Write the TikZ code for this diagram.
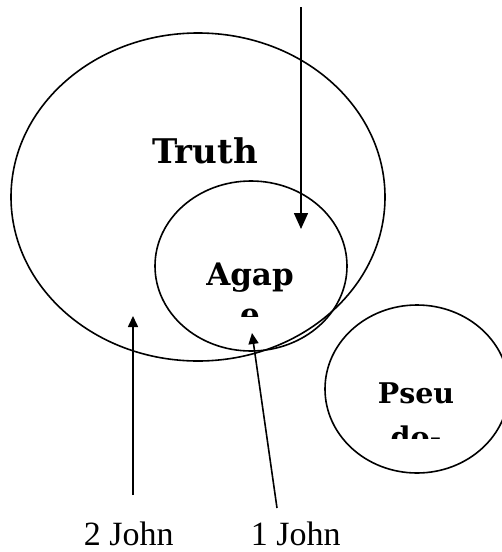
\documentclass[tikz,border=0pt]{standalone}
\usepackage{fontspec}
\setmainfont{Liberation Serif}
\newfontfamily\headfont{DejaVu Serif}
\usetikzlibrary{arrows.meta}
\begin{document}
\begin{tikzpicture}[x=1pt,y=-1pt,line join=round,line width=1.6pt,>={Triangle[length=11pt,width=10pt]}]
	\tikzset{every node/.style={inner sep=0pt},
		setname/.style={font=\headfont\bfseries,align=center,anchor=base},
		booklabel/.style={font=\fontsize{34}{40}\selectfont,anchor=base west}}
	\clip (0,0) rectangle (502,552);
	\draw (198,197) ellipse [x radius=187,y radius=164];
	\draw (251,266) ellipse [x radius=96,y radius=85];
	\draw (417,389) ellipse [x radius=92,y radius=84];
	\node[setname,font=\headfont\bfseries\fontsize{34}{40}\selectfont] (truth) at (205,163) {Truth};
	\begin{scope}
		\clip (150,240) rectangle (350,316);
		\node[setname,font=\headfont\bfseries\fontsize{31}{40}\selectfont] (agape) at (250,325) {Agap\\e};
	\end{scope}
	\begin{scope}
		\clip (330,360) rectangle (500,438);
		\node[setname,font=\headfont\bfseries\fontsize{28.5}{44}\selectfont] (pseudo) at (416,447) {Pseu\\do-};
	\end{scope}
	\node[booklabel] (john2) at (83,545) {2 John};
	\node[booklabel] (john1) at (250,545) {1 John};
	\coordinate (topend) at (301,7);
	\coordinate (agapetop) at (301,229);
	\coordinate (john2end) at (133,495);
	\coordinate (truthlow) at (133,316);
	\coordinate (john1end) at (277,508);
	\coordinate (agapelow) at (252,333);
	\draw[-{Triangle[length=16pt,width=14pt]}] (topend)--(agapetop);
	\draw[->] (john2end)--(truthlow);
	\draw[->] (john1end)--(agapelow);
\end{tikzpicture}
\end{document}
